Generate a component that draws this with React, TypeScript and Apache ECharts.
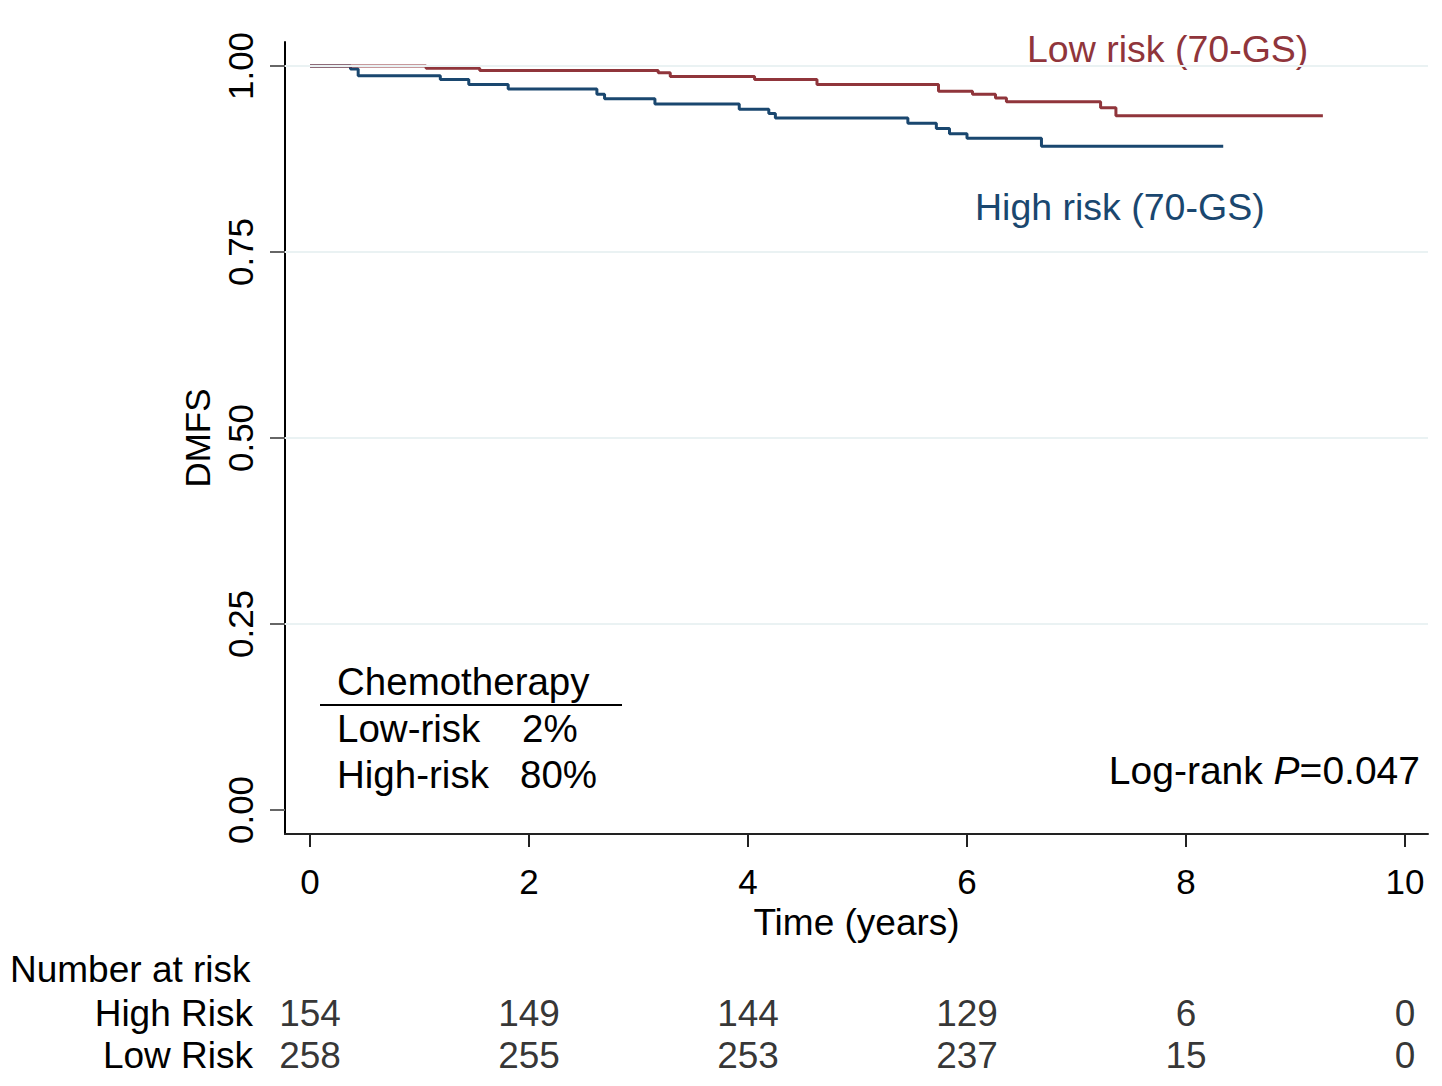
import React, { useEffect, useRef } from 'react';
import * as echarts from 'echarts';

// Kaplan-Meier steps (time in years, survival proportion)
const lowRiskTime = [0, 1.06, 1.55, 3.18, 3.29, 4.06, 4.63, 5.74, 6.05, 6.26, 6.36, 7.22, 7.36, 9.25];
const lowRiskSurv = [1, 0.997, 0.994, 0.991, 0.986, 0.982, 0.975, 0.966, 0.962, 0.957, 0.952, 0.944, 0.933, 0.933];
const highRiskTime = [0, 0.37, 0.44, 1.19, 1.45, 1.81, 2.62, 2.69, 3.15, 3.92, 4.19, 4.25, 5.46, 5.72, 5.84, 6.0, 6.68, 8.34];
const highRiskSurv = [1, 0.996, 0.987, 0.982, 0.975, 0.969, 0.962, 0.956, 0.949, 0.942, 0.936, 0.93, 0.923, 0.916, 0.909, 0.903, 0.892, 0.892];

// axes
const timeTicks = [0, 2, 4, 6, 8, 10];
const survTicks = [0, 0.25, 0.5, 0.75, 1];
const gridValues = [0.25, 0.5, 0.75, 1];

// number at risk table
const riskGroups = ['High Risk', 'Low Risk'];
const highAtRisk = [154, 149, 144, 129, 6, 0];
const lowAtRisk = [258, 255, 253, 237, 15, 0];

const MAROON = '#90353b';
const NAVY = '#1a476f';
const FONT = '"Liberation Sans", Arial, sans-serif';

const App: React.FC = () => {
  const chartRef = useRef<HTMLDivElement>(null);

  useEffect(() => {
    if (!chartRef.current) return;
    const chart = echarts.init(chartRef.current, undefined, { renderer: 'svg' });

    const xMin = -25 / 109.5;
    const xMax = 1118 / 109.5;
    const yMin = -24 / 744;
    const yMax = 1 + 24 / 744;

    const option = {
      animation: false,
      backgroundColor: '#fff',
      textStyle: { fontFamily: FONT },
      grid: [
        { left: 285, right: 14, top: 42, bottom: 252 },
        { left: 285, right: 14, top: 992, bottom: 10 },
      ],
      xAxis: [
        {
          type: 'value',
          gridIndex: 0,
          min: xMin,
          max: xMax,
          splitLine: { show: false },
          axisLine: { onZero: false, lineStyle: { color: '#222', width: 2 } },
          axisTick: { customValues: timeTicks, length: 13, lineStyle: { color: '#222', width: 2 } },
          axisLabel: {
            customValues: timeTicks,
            margin: 30,
            fontSize: 35,
            color: '#000',
            fontFamily: FONT,
          },
          name: 'Time (years)',
          nameLocation: 'middle',
          nameGap: 63,
          nameTextStyle: { fontSize: 37, color: '#000', fontFamily: FONT },
        },
        {
          type: 'value',
          gridIndex: 1,
          min: xMin,
          max: xMax,
          show: false,
        },
      ],
      yAxis: [
        {
          type: 'value',
          gridIndex: 0,
          min: yMin,
          max: yMax,
          splitLine: { show: false },
          axisLine: { onZero: false, lineStyle: { color: '#000', width: 2 } },
          axisTick: { customValues: survTicks, length: 15, lineStyle: { color: '#666', width: 2 } },
          axisLabel: {
            customValues: survTicks,
            rotate: 90,
            margin: 27,
            fontSize: 35,
            color: '#000',
            fontFamily: FONT,
            formatter: (v: number) => v.toFixed(2),
          },
          name: 'DMFS',
          nameLocation: 'middle',
          nameGap: 70,
          nameTextStyle: { fontSize: 35, color: '#000', fontFamily: FONT },
        },
        {
          type: 'category',
          gridIndex: 1,
          data: riskGroups,
          inverse: true,
          axisLine: { show: false },
          axisTick: { show: false },
          splitLine: { show: false },
          axisLabel: { interval: 0, margin: 32, fontSize: 37, color: '#000', fontFamily: FONT },
        },
      ],
      series: [
        {
          name: 'grid',
          type: 'line',
          xAxisIndex: 0,
          yAxisIndex: 0,
          data: [[0, 1]],
          showSymbol: false,
          lineStyle: { opacity: 0 },
          silent: true,
          z: 1,
          markLine: {
            silent: true,
            symbol: 'none',
            label: { show: false },
            lineStyle: { color: '#eaf2f3', width: 2, type: 'solid' },
            data: gridValues.map((v) => ({ yAxis: v })),
          },
        },
        {
          name: 'High risk (70-GS)',
          type: 'line',
          step: 'end',
          xAxisIndex: 0,
          yAxisIndex: 0,
          showSymbol: false,
          z: 3,
          lineStyle: { color: NAVY, width: 3 },
          data: highRiskTime.map((t, i) => [t, highRiskSurv[i]]),
        },
        {
          name: 'Low risk (70-GS)',
          type: 'line',
          step: 'end',
          xAxisIndex: 0,
          yAxisIndex: 0,
          showSymbol: false,
          z: 3,
          lineStyle: { color: MAROON, width: 3 },
          data: lowRiskTime.map((t, i) => [t, lowRiskSurv[i]]),
        },
        ...[highAtRisk, lowAtRisk].map((row, r) => ({
          type: 'scatter',
          xAxisIndex: 1,
          yAxisIndex: 1,
          symbolSize: 1,
          itemStyle: { color: 'transparent' },
          silent: true,
          label: {
            show: true,
            position: 'inside',
            fontSize: 37,
            color: '#000',
            fontFamily: FONT,
            formatter: (p: any) => String(p.value[2]),
          },
          data: row.map((n, i) => [timeTicks[i], riskGroups[r], n]),
        })),
      ],
      graphic: [
        {
          type: 'text',
          left: 1027,
          top: 30,
          style: { text: 'Low risk (70-GS)', fill: MAROON, font: `37.5px ${FONT}` },
        },
        {
          type: 'text',
          left: 975,
          top: 188,
          style: { text: 'High risk (70-GS)', fill: NAVY, font: `37.5px ${FONT}` },
        },
        {
          type: 'text',
          left: 337,
          top: 662,
          style: { text: 'Chemotherapy', fill: '#000', font: `38.5px ${FONT}` },
        },
        {
          type: 'line',
          shape: { x1: 320, y1: 705, x2: 622, y2: 705 },
          style: { stroke: '#000', lineWidth: 2 },
        },
        {
          type: 'text',
          left: 337,
          top: 709,
          style: { text: 'Low-risk', fill: '#000', font: `38.5px ${FONT}` },
        },
        {
          type: 'text',
          left: 522,
          top: 709,
          style: { text: '2%', fill: '#000', font: `38.5px ${FONT}` },
        },
        {
          type: 'text',
          left: 337,
          top: 755,
          style: { text: 'High-risk', fill: '#000', font: `38.5px ${FONT}` },
        },
        {
          type: 'text',
          left: 520,
          top: 755,
          style: { text: '80%', fill: '#000', font: `38.5px ${FONT}` },
        },
        {
          type: 'text',
          right: 22,
          top: 751,
          style: {
            text: '{a|Log-rank }{i|P}{a|=0.047}',
            rich: {
              a: { fontSize: 39, fontFamily: FONT, fill: '#000' },
              i: { fontSize: 39, fontFamily: FONT, fontStyle: 'italic', fill: '#000' },
            },
          },
        },
        {
          type: 'text',
          left: 10,
          top: 951,
          style: { text: 'Number at risk', fill: '#000', font: `37px ${FONT}` },
        },
      ],
    };

    chart.setOption(option as any);
    return () => {
      chart.dispose();
    };
  }, []);

  return (
    <div
      ref={chartRef}
      style={{ position: 'fixed', left: 0, top: 0, width: '1442px', height: '1086px' }}
    />
  );
};

export default App;
